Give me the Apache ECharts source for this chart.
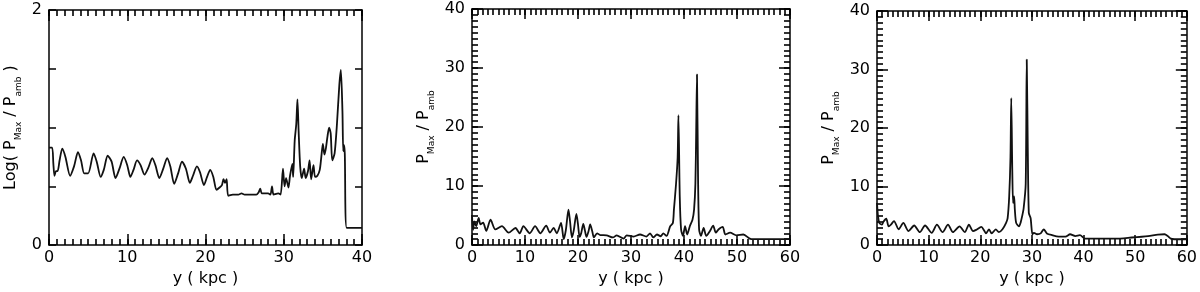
<!DOCTYPE html>
<html>
<head>
<meta charset="utf-8">
<script src="https://cdn.jsdelivr.net/npm/echarts@6/dist/echarts.min.js"></script>
<style>
  html, body { margin: 0; padding: 0; background: #fff; }
  #chart { width: 1200px; height: 292px; }
</style>
</head>
<body>
<div id="chart"></div>
<script>
// panel 1: Log(Pmax/Pamb) vs y (kpc)
const p1X = [0, 0.4, 0.55, 0.7, 0.9, 1.1, 1.35, 1.7, 2.1, 2.7, 3.2, 3.7, 4.1, 4.5, 5.0, 5.7, 6.1, 6.6, 7.0, 7.5,
  8.0, 8.5, 9.0, 9.55, 10.0, 10.4, 10.8, 11.25, 11.7, 12.2, 12.7, 13.2, 13.6, 14.1, 14.6, 15.1, 15.5, 16.0, 16.5, 17.0,
  17.5, 18.0, 18.4, 18.9, 19.3, 19.8, 20.2, 20.6, 21.0, 21.4, 21.8, 22.1, 22.3, 22.5, 22.7, 22.9, 23.5, 24.2, 24.6, 25.0,
  25.8, 26.5, 26.8, 27.0, 27.2, 28.0, 28.3, 28.5, 28.7, 29.3, 29.6, 29.9, 30.1, 30.3, 30.6, 30.8, 31.1, 31.2, 31.4, 31.6,
  31.75, 31.9, 32.1, 32.3, 32.6, 32.8, 33.1, 33.3, 33.5, 33.8, 34.0, 34.3, 34.6, 34.8, 35.0, 35.2, 35.4, 35.6, 35.8, 36.0,
  36.2, 36.5, 36.8, 37.1, 37.3, 37.5, 37.6, 37.7, 37.8, 38.05, 40];
const p1Y = [0.83, 0.83, 0.7, 0.59, 0.63, 0.63, 0.72, 0.82, 0.75, 0.59, 0.67, 0.79, 0.72, 0.61, 0.61, 0.78, 0.71, 0.58, 0.64, 0.76,
  0.71, 0.57, 0.65, 0.75, 0.68, 0.58, 0.64, 0.72, 0.68, 0.60, 0.66, 0.74, 0.68, 0.57, 0.65, 0.74, 0.67, 0.52, 0.61, 0.71,
  0.65, 0.53, 0.59, 0.67, 0.62, 0.51, 0.58, 0.64, 0.58, 0.47, 0.49, 0.51, 0.56, 0.53, 0.56, 0.42, 0.43, 0.43, 0.44, 0.43,
  0.43, 0.43, 0.45, 0.48, 0.44, 0.44, 0.43, 0.50, 0.43, 0.44, 0.43, 0.65, 0.50, 0.57, 0.49, 0.59, 0.69, 0.58, 0.89, 1.03,
  1.24, 0.97, 0.67, 0.57, 0.65, 0.57, 0.63, 0.72, 0.56, 0.68, 0.58, 0.59, 0.64, 0.75, 0.86, 0.77, 0.83, 0.93, 1.0, 0.95,
  0.72, 0.78, 1.03, 1.36, 1.49, 1.14, 0.80, 0.85, 0.78, 0.147, 0.147];

// panel 2: Pmax/Pamb vs y (kpc)
const p2X = [0, 0.2, 0.45, 0.8, 1.26, 1.6, 2.1, 2.7, 3.5, 4.4, 5.65, 6.9, 8.2, 9.0, 9.7, 10.9, 11.9, 12.9, 14.0, 14.7,
  15.4, 16.0, 16.8, 17.3, 17.7, 18.2, 18.5, 18.85, 19.2, 19.7, 20.0, 20.3, 20.6, 21.0, 21.3, 21.6, 22.0, 22.3, 22.7, 23.0,
  23.6, 24.2, 25.4, 26.6, 27.3, 28.6, 29.2, 30.5, 31.7, 32.9, 33.6, 34.2, 34.9, 35.6, 36.1, 36.7, 37.4, 37.9, 38.1, 38.5,
  38.8, 38.95, 39.2, 39.45, 39.8, 40.2, 40.6, 41.1, 41.6, 41.9, 42.15, 42.3, 42.45, 42.65, 42.85, 43.2, 43.7, 44.2, 44.9, 45.5,
  46.0, 46.5, 47.3, 47.8, 48.7, 49.9, 51.2, 52.4, 53.1, 60];
const p2Y = [5.1, 2.6, 4.0, 3.2, 4.6, 3.5, 3.8, 2.4, 4.3, 2.65, 3.2, 2.1, 2.9, 2.0, 3.2, 2.0, 3.2, 2.0, 3.3, 2.1,
  2.9, 2.0, 3.75, 1.0, 2.5, 6.0, 4.0, 1.3, 2.5, 5.3, 3.5, 1.4, 2.0, 3.6, 2.5, 1.4, 2.4, 3.5, 2.3, 1.3,
  2.0, 1.7, 1.65, 1.3, 1.65, 1.1, 1.65, 1.45, 1.8, 1.45, 2.0, 1.3, 1.8, 1.5, 2.0, 1.55, 3.2, 3.75, 6.0, 10.4,
  14.8, 22.0, 8.2, 2.65, 1.55, 3.2, 1.8, 3.2, 4.3, 6.0, 10.4, 19.2, 28.9, 11.5, 2.65, 1.55, 2.9, 1.55, 2.4, 3.3,
  2.1, 2.65, 3.1, 1.8, 2.1, 1.65, 1.8, 1.1, 1.0, 1.0];

// panel 3: Pmax/Pamb vs y (kpc)
const p3X = [0, 0.2, 0.45, 0.96, 1.25, 1.8, 2.25, 2.7, 3.3, 4.2, 5.1, 6.1, 7.2, 8.3, 9.3, 10.6, 11.6, 12.7, 13.75, 14.7,
  16.0, 17.0, 17.8, 18.6, 19.2, 20.2, 20.8, 21.1, 21.7, 22.2, 23.0, 23.6, 24.3, 25.0, 25.3, 25.6, 25.85, 26.0, 26.2, 26.35,
  26.55, 26.7, 26.95, 27.5, 27.8, 28.1, 28.4, 28.8, 29.0, 29.2, 29.4, 29.75, 30.1, 30.4, 31.0, 31.7, 32.3, 32.9, 33.9, 35.2,
  36.5, 37.4, 38.4, 39.3, 40.3, 42.9, 46.1, 49.3, 52.5, 54.4, 55.7, 56.3, 56.9, 57.6, 60];
const p3Y = [7.2, 4.9, 3.8, 3.5, 4.0, 4.5, 3.2, 3.5, 4.1, 2.7, 3.8, 2.4, 3.35, 2.2, 3.35, 2.1, 3.5, 2.2, 3.5, 2.2,
  3.2, 2.2, 3.5, 2.4, 2.6, 3.1, 2.4, 2.0, 2.7, 2.0, 2.7, 2.2, 2.7, 3.8, 4.6, 8.3, 15.0, 25.1, 12.7, 7.2,
  8.3, 6.0, 3.8, 3.2, 3.8, 4.9, 6.3, 10.5, 31.7, 16.6, 5.5, 4.6, 1.85, 2.1, 1.85, 2.0, 2.7, 2.0, 1.7, 1.45,
  1.45, 1.85, 1.55, 1.7, 1.1, 1.1, 1.1, 1.3, 1.55, 1.8, 1.85, 1.55, 1.1, 1.0, 1.0];

const p1YLabels = [0, 2];

const font = 'DejaVu Sans, sans-serif';
const lineW = 1.5;

function richName(size) {
  return {
    m: { fontFamily: font, fontSize: size, lineHeight: 24, color: '#000' },
    s: { fontFamily: font, fontSize: 9, lineHeight: 10, verticalAlign: 'bottom', color: '#000' }
  };
}

// major + minor tick axes for one side pair (bottom/top or left/right)
function axisSet(gi, max, interval, majorLen, minor, sides, labelOpts) {
  const base = {
    type: 'value', gridIndex: gi, min: 0, max: max,
    splitLine: { show: false }, axisLabel: { show: false }
  };
  const major = Object.assign({}, base, {
    interval: interval,
    axisLine: { onZero: false, lineStyle: { color: '#000', width: lineW } },
    axisTick: { inside: true, length: majorLen, lineStyle: { color: '#000', width: 1.5 } }
  });
  const out = [
    Object.assign({}, major, { position: sides[0] }, labelOpts),
    Object.assign({}, major, { position: sides[1] })
  ];
  if (minor) {
    const mn = Object.assign({}, base, {
      interval: 1,
      axisLine: { show: false, onZero: false },
      axisTick: { inside: true, length: 6, lineStyle: { color: '#000', width: 1.6 } }
    });
    out.push(Object.assign({}, mn, { position: sides[0] }));
    out.push(Object.assign({}, mn, { position: sides[1] }));
  }
  return out;
}

function xLabels(gi, max, majorLen) {
  return axisSet(gi, max, 10, majorLen, true, ['bottom', 'top'], {
    axisLabel: { show: true, color: '#000', fontFamily: font, fontSize: 16, margin: 5 },
    name: 'y ( kpc )', nameLocation: 'middle', nameGap: 24,
    nameTextStyle: { color: '#000', fontFamily: font, fontSize: 16 }
  });
}

function yLabels(gi, max, interval, majorLen, minor, name, gap, fmt) {
  return axisSet(gi, max, interval, majorLen, minor, ['left', 'right'], {
    axisLabel: { show: true, color: '#000', fontFamily: font, fontSize: 16, margin: 7, formatter: fmt },
    name: name, nameLocation: 'middle', nameGap: gap,
    nameTextStyle: { rich: richName(16) }
  });
}

const xAxes = [];
const yAxes = [];
const idx = [];
function addPanel(xs, ys) {
  idx.push([xAxes.length, yAxes.length]);
  xAxes.push.apply(xAxes, xs);
  yAxes.push.apply(yAxes, ys);
}
addPanel(xLabels(0, 40, 11),
  yLabels(0, 2, 0.5, 7, false, '{m|Log( P}{s|Max}{m| / P}{s|amb}{m| )}', 26,
    v => (p1YLabels.indexOf(v) >= 0 ? String(v) : '')));
addPanel(xLabels(1, 60, 10), yLabels(1, 40, 10, 11, true, '{m|P}{s|Max}{m| / P}{s|amb}', 36, null));
addPanel(xLabels(2, 60, 10), yLabels(2, 40, 10, 11, true, '{m|P}{s|Max}{m| / P}{s|amb}', 36, null));

function zip(xs, ys) {
  return xs.map((x, i) => [x, ys[i]]);
}

function curve(gi, xs, ys) {
  return {
    type: 'line', xAxisIndex: idx[gi][0], yAxisIndex: idx[gi][1], data: zip(xs, ys),
    showSymbol: false, smooth: 0.25, lineStyle: { color: '#111', width: 1.8 }
  };
}

const chart = echarts.init(document.getElementById('chart'));
chart.setOption({
  animation: false,
  backgroundColor: '#fff',
  grid: [
    { left: 49, top: 10, width: 313, height: 240 },
    { left: 472, top: 9, width: 318, height: 240 },
    { left: 877, top: 11, width: 312, height: 238 }
  ],
  xAxis: xAxes,
  yAxis: yAxes,
  series: [curve(0, p1X, p1Y), curve(1, p2X, p2Y), curve(2, p3X, p3Y)]
});
</script>
</body>
</html>
